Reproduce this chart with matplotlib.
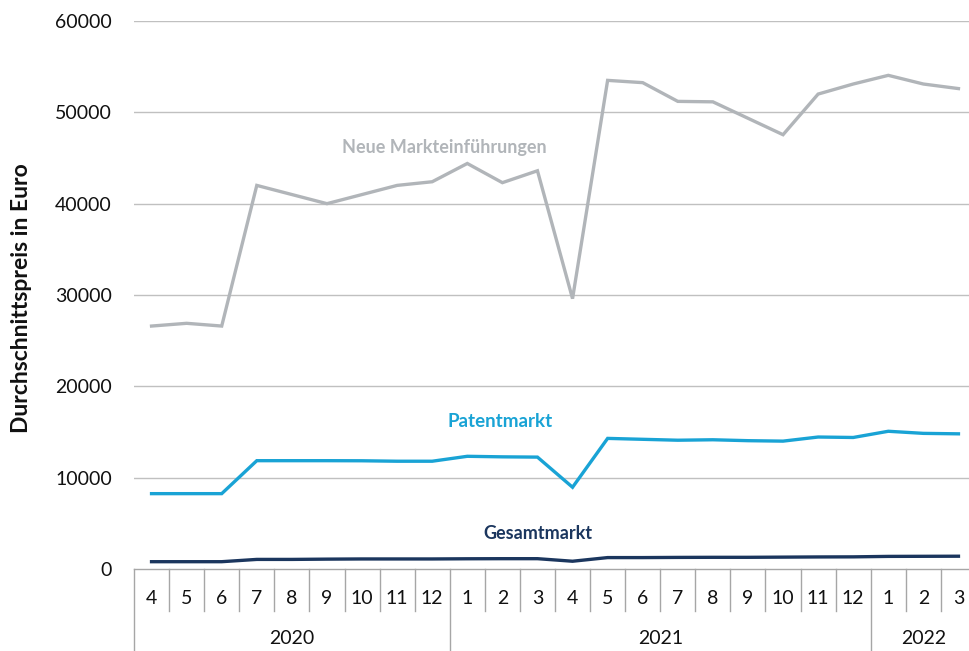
import matplotlib
matplotlib.use("Agg")
import matplotlib.pyplot as plt
from matplotlib.transforms import blended_transform_factory

plt.rcParams['font.family'] = ['Lato', 'DejaVu Sans']

months = ["4", "5", "6", "7", "8", "9", "10", "11", "12",
          "1", "2", "3", "4", "5", "6", "7", "8", "9", "10", "11", "12",
          "1", "2", "3"]
years = ["2020", "2021", "2022"]
year_counts = [9, 12, 3]

neue = [26600, 26900, 26600, 42000, 41000, 40000, 41000, 42000, 42400,
        44400, 42300, 43600, 29600, 53500, 53250, 51200, 51150, 49350,
        47550, 52000, 53100, 54050, 53100, 52600]
patent = [8250, 8250, 8250, 11860, 11860, 11860, 11850, 11800, 11800,
          12340, 12280, 12250, 8950, 14300, 14200, 14100, 14150, 14050,
          14000, 14450, 14400, 15080, 14850, 14800]
gesamt = [800, 800, 800, 1050, 1050, 1080, 1100, 1100, 1100,
          1120, 1130, 1130, 850, 1250, 1250, 1270, 1280, 1280,
          1300, 1320, 1330, 1380, 1390, 1400]

yticks = [0, 10000, 20000, 30000, 40000, 50000, 60000]
ylabel = "Durchschnittspreis in Euro"
labels = ["Neue Markteinführungen", "Patentmarkt", "Gesamtmarkt"]

c_neue = "#b1b5b9"
c_patent = "#19a3d5"
c_gesamt = "#1b365e"
c_grid = "#c0c0c0"
c_text = "#111111"

W, H = 969, 651
fig = plt.figure(figsize=(W / 100, H / 100), dpi=100)
ax = fig.add_axes([134 / W, (H - 569) / H, 842 / W, 548 / H])

x = list(range(len(months)))
ax.set_xlim(-0.5, len(months) - 0.5)
ax.set_ylim(0, 60000)

for t in yticks[1:]:
    ax.axhline(t, color=c_grid, lw=1.0, zorder=1)
ax.axhline(0, color="#a6a6a6", lw=1.0, zorder=1, clip_on=False)

ax.plot(x, neue, color=c_neue, lw=2.4, zorder=3, solid_joinstyle='miter')
ax.plot(x, patent, color=c_patent, lw=2.4, zorder=3, solid_joinstyle='miter')
ax.plot(x, gesamt, color=c_gesamt, lw=2.4, zorder=3, solid_joinstyle='miter')

ax.set_yticks(yticks)
ax.set_yticklabels([str(t) for t in yticks], fontsize=14, color=c_text)
ax.tick_params(axis='y', length=0, pad=16)
ax.set_xticks([])
for s in ax.spines.values():
    s.set_visible(False)

fig.text(22 / W, 1 - 298 / H, ylabel, rotation=90, ha='center', va='center',
         fontsize=16.5, fontweight='bold', color=c_text)

# series labels
ax.text(8.35, 46100, labels[0], color=c_neue, fontsize=13, fontweight='bold',
        ha='center', va='center')
ax.text(9.95, 16100, labels[1], color=c_patent, fontsize=13.5, fontweight='bold',
        ha='center', va='center')
ax.text(11.0, 3850, labels[2], color=c_gesamt, fontsize=13, fontweight='bold',
        ha='center', va='center')

# multi-level category axis
trans = blended_transform_factory(ax.transData, fig.transFigure)
y_axis = (H - 569) / H
y_month_bot = (H - 611) / H
y_month_lab = (H - 598) / H
y_year_lab = (H - 639) / H
sep = "#a6a6a6"

year_bounds = [0]
for c in year_counts:
    year_bounds.append(year_bounds[-1] + c)

for i in range(len(months) + 1):
    xb = i - 0.5
    bottom = 0.0 if i in year_bounds else y_month_bot
    ax.plot([xb, xb], [y_axis, bottom], transform=trans, color=sep, lw=1.0,
            clip_on=False)

for i, m in enumerate(months):
    ax.text(i, y_month_lab, m, transform=trans, ha='center', va='center',
            fontsize=14, color=c_text)

for k, yr in enumerate(years):
    xc = (year_bounds[k] + year_bounds[k + 1] - 1) / 2
    ax.text(xc, y_year_lab, yr, transform=trans, ha='center', va='center',
            fontsize=14, color=c_text)

fig.savefig("out.png", dpi=100)
